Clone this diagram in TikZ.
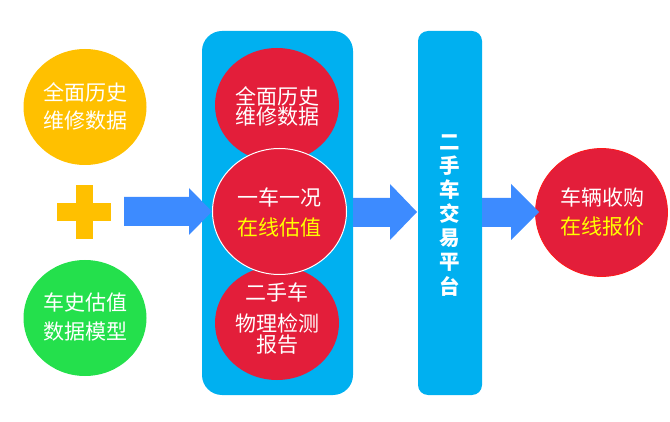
\documentclass[tikz,border=0pt]{standalone}
\usepackage{fontspec}
\setmainfont{Noto Sans CJK SC}
\definecolor{cOrange}{HTML}{FFC000}
\definecolor{cGreen}{HTML}{24E04C}
\definecolor{cBox}{HTML}{00B0F0}
\definecolor{cRed}{HTML}{E31E3A}
\definecolor{cArrow}{HTML}{3D8BFF}
\definecolor{cYel}{HTML}{FFFF00}
\begin{document}
\begin{tikzpicture}[x=1pt,y=-1pt,
  txt/.style={text=white,font=\fontsize{21}{22}\selectfont,inner sep=0pt},
  ytxt/.style={txt,text=cYel},
  vtxt/.style={text=white,font=\fontsize{20.5}{22}\selectfont\bfseries,inner sep=0pt},
  barrow/.style={fill=cArrow,draw=none}]
\useasboundingbox (0,0) rectangle (670,422);
% left circles
\fill[cOrange] (85,107) ellipse [x radius=61.5,y radius=58];
\node[txt] (o1) at (85,92) {全面历史};
\node[txt] (o2) at (85,121) {维修数据};
\fill[cOrange] (76,185) rectangle (93,239);
\fill[cOrange] (57,203) rectangle (111,221);
\fill[cGreen] (85,318) ellipse [x radius=61.5,y radius=58];
\node[txt] (g1) at (85,302) {车史估值};
\node[txt] (g2) at (85,332) {数据模型};
% big blue box
\fill[cBox,rounded corners=20pt] (202,31) rectangle (353,395);
% arrow 1
\fill[barrow] (124,197) -- (189,197) -- (189,188) -- (212,211.5) -- (189,235) -- (189,226) -- (124,226) -- cycle;
% red circles
\fill[cRed] (277,105) ellipse [x radius=62,y radius=57];
\fill[cRed] (277,323) ellipse [x radius=62,y radius=57];
\filldraw[fill=cRed,draw=white,line width=1pt] (279.5,211.5) ellipse [x radius=67,y radius=63];
\node[txt] (r1) at (277,96) {全面历史};
\node[txt] (r2) at (277,117) {维修数据};
\node[txt] (m1) at (279,197) {一车一况};
\node[ytxt] (m2) at (279,228) {在线估值};
\node[txt] (b1) at (277,292) {二手车};
\node[txt] (b2) at (277,323) {物理检测};
\node[txt] (b3) at (277,345) {报告};
% arrow 2
\fill[barrow] (353,198) -- (390,198) -- (390,184) -- (417,212) -- (390,240) -- (390,227) -- (353,227) -- cycle;
% tall box
\fill[cBox,rounded corners=10pt] (418,31) rectangle (482,395);
\foreach \c [count=\i from 0] in {二,手,车,交,易,平,台}{
  \node[vtxt] (v\i) at (450,142+24*\i) {\c};
}
% right circle
\filldraw[fill=cRed,draw=red!90!white,line width=0.8pt] (601.5,212.5) ellipse [x radius=66,y radius=64];
\node[txt] (x1) at (602,197) {车辆收购};
\node[ytxt] (x2) at (602,227) {在线报价};
% arrow 3
\fill[barrow] (482,198) -- (511,198) -- (511,184) -- (539,212) -- (511,240) -- (511,227) -- (482,227) -- cycle;
\end{tikzpicture}
\end{document}
